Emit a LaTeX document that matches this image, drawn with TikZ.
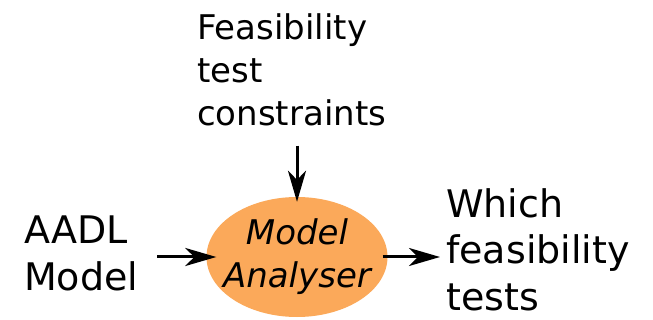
\documentclass[tikz,border=0pt]{standalone}
\usepackage{fontspec}
\setmainfont{DejaVu Sans}
\usetikzlibrary{shapes.geometric,arrows.meta}
\definecolor{analyserorange}{HTML}{FBA95A}
\begin{document}
\begin{tikzpicture}[
    x=1pt, y=-1pt,
    tool/.style={ellipse, fill=analyserorange, minimum width=181pt, minimum height=120pt, inner xsep=-10pt, inner ysep=0pt,
        align=center, font=\fontsize{34}{43}\selectfont\itshape},
    arrow/.style={-{Stealth[length=31pt, width=18pt, inset=9pt]}, line width=3pt}
]
    \useasboundingbox (0,0) rectangle (653,320);

    % Nodes
    \node[tool] (analyser) at (297,257) {Model\\Analyser};
    \node[inner sep=0pt, align=left, anchor=north west, font=\fontsize{34}{43}\selectfont] (constraints) at (197,13) {Feasibility\\test\\constraints};
    \node[inner sep=0pt, align=left, anchor=north west, font=\fontsize{38}{46.6}\selectfont] (aadl) at (24,216) {AADL\\Model};
    \node[inner sep=0pt, align=left, anchor=north west, font=\fontsize{38}{46.6}\selectfont] (which) at (446,188) {Which\\feasibility\\tests};

    % Arrows
    \draw[arrow, shorten <=20pt, shorten >=-5pt] (analyser.north |- constraints.south) -- (analyser.north);
    \draw[arrow, shorten <=19pt, shorten >=-10pt] (aadl.east |- analyser.west) -- (analyser.west);
    \draw[arrow, shorten <=-5pt, shorten >=6pt] (analyser.east) -- (analyser.east -| which.west);
\end{tikzpicture}
\end{document}
